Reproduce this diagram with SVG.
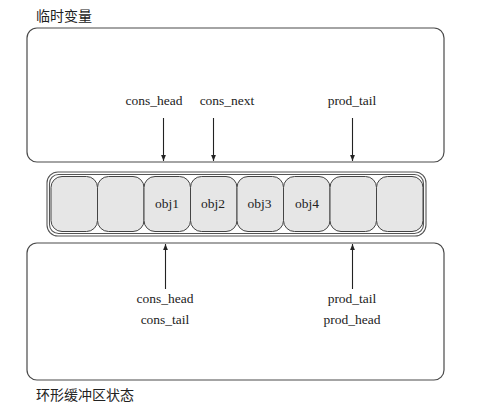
<svg xmlns="http://www.w3.org/2000/svg" width="479" height="407" viewBox="0 0 479 407">
<defs>
<style>
.box{fill:none;stroke:#4a4a4a;stroke-width:1.2}
.ring{fill:#fff;stroke:#555;stroke-width:1.1}
.cell{fill:#e6e6e6;stroke:#444;stroke-width:1}
.lbl{font-family:"Liberation Serif","Times New Roman",serif;font-size:13.5px;fill:#222;text-anchor:middle}
.cjk{font-family:"Noto Sans CJK SC","Noto Sans",sans-serif;font-size:14px;fill:#222}
.arr{stroke:#222;stroke-width:1.1;fill:none}
</style>
<marker id="ah" viewBox="0 0 10 10" refX="10" refY="5" markerWidth="6" markerHeight="6" markerUnits="userSpaceOnUse" orient="auto">
<path d="M0,1 L10,5 L0,9 Z" fill="#222"/>
</marker>
</defs>
<rect width="479" height="407" fill="#fff"/>
<g id="temp-vars">
<rect class="box" x="27" y="28" width="417" height="134" rx="10"/>
<text class="cjk" x="36" y="21">临时变量</text>
</g>
<g id="ring-state">
<rect class="box" x="27" y="243" width="417" height="137" rx="10"/>
<text class="cjk" x="36" y="400">环形缓冲区状态</text>
</g>
<g id="ring-buffer">
<rect class="ring" x="47" y="172" width="379" height="64" rx="11"/>
<rect class="ring" x="49.5" y="174.5" width="374" height="59" rx="9"/>
<rect class="cell" x="51" y="176.5" width="46.5" height="55" rx="11"/>
<rect class="cell" x="97.5" y="176.5" width="46.5" height="55" rx="11"/>
<rect class="cell" x="144" y="176.5" width="46.5" height="55" rx="11"/>
<rect class="cell" x="190.5" y="176.5" width="46.5" height="55" rx="11"/>
<rect class="cell" x="237" y="176.5" width="46.5" height="55" rx="11"/>
<rect class="cell" x="283.5" y="176.5" width="46.5" height="55" rx="11"/>
<rect class="cell" x="330" y="176.5" width="46.5" height="55" rx="11"/>
<rect class="cell" x="376.5" y="176.5" width="46.5" height="55" rx="11"/>
<text class="lbl" x="167" y="208">obj1</text>
<text class="lbl" x="213" y="208">obj2</text>
<text class="lbl" x="259.5" y="208">obj3</text>
<text class="lbl" x="307" y="208">obj4</text>
</g>
<g id="connectors">
<line class="arr" x1="163.5" y1="118" x2="163.5" y2="161" marker-end="url(#ah)"/>
<line class="arr" x1="213.5" y1="118" x2="213.5" y2="161" marker-end="url(#ah)"/>
<line class="arr" x1="352.5" y1="118" x2="352.5" y2="161" marker-end="url(#ah)"/>
<line class="arr" x1="165.5" y1="289" x2="165.5" y2="244" marker-end="url(#ah)"/>
<line class="arr" x1="352.5" y1="289" x2="352.5" y2="244" marker-end="url(#ah)"/>
</g>
<g id="pointer-labels">
<text class="lbl" x="154" y="105">cons_head</text>
<text class="lbl" x="227" y="105">cons_next</text>
<text class="lbl" x="352" y="105">prod_tail</text>
<text class="lbl" x="165" y="303">cons_head</text>
<text class="lbl" x="165" y="324">cons_tail</text>
<text class="lbl" x="352" y="303">prod_tail</text>
<text class="lbl" x="352" y="324">prod_head</text>
</g>
</svg>
